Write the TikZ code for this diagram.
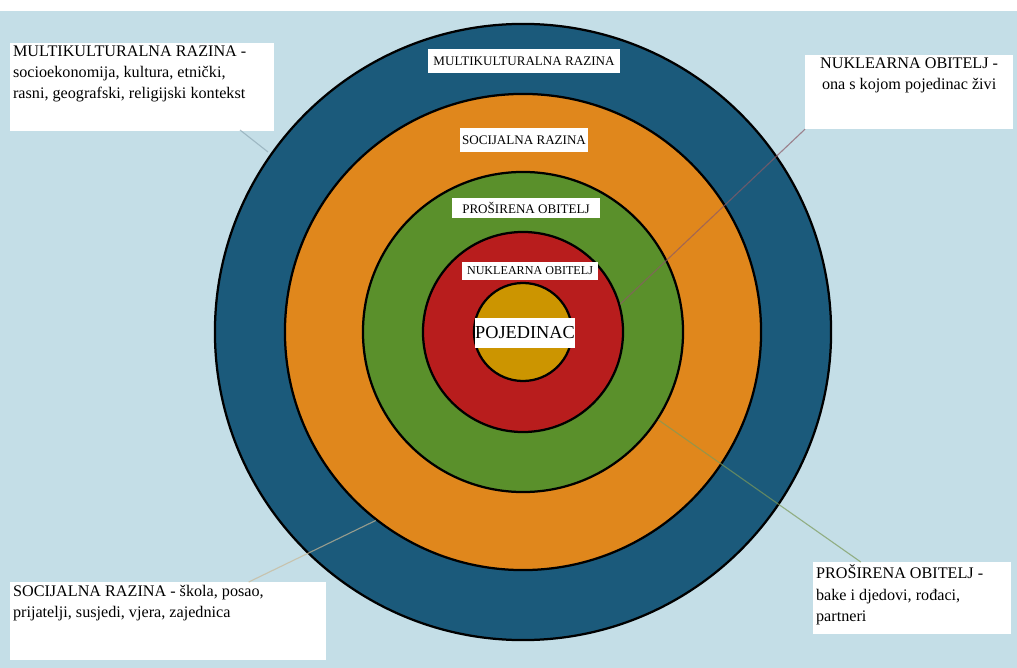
\documentclass[tikz,border=0pt]{standalone}
\usepackage{fontspec}
\setmainfont{Liberation Serif}
\definecolor{bgblue}{HTML}{C4DEE7}
\definecolor{ringblue}{HTML}{1B5A7B}
\definecolor{ringorange}{HTML}{E0871C}
\definecolor{ringgreen}{HTML}{5A902B}
\definecolor{ringred}{HTML}{B81D1D}
\definecolor{ringgold}{HTML}{CC9500}
\definecolor{linkgrey}{HTML}{8FA9B5}
\definecolor{linkred}{HTML}{8B5A66}
\definecolor{linkolive}{HTML}{7C9A5A}
\definecolor{linktan}{HTML}{C9B896}
\begin{document}
\begin{tikzpicture}[x=0.025cm,y=-0.025cm,
     ring/.style={circle,draw=black,line width=1.6pt,inner sep=0pt},
     tag/.style={fill=white,inner sep=0pt,font=\fontsize{9.3}{10}\selectfont},
     box/.style={fill=white,inner sep=2pt,anchor=north west,font=\fontsize{11.5}{15}\selectfont},
     link/.style={line width=0.8pt,opacity=0.7}]

      \fill[white] (0,0) rectangle (1017,668);
      \fill[bgblue] (0,11) rectangle (1017,668);

      \coordinate (c) at (523,332);
      \coordinate (tl) at (240,130);

      \node[box] (bmulti) at (10,43) {\parbox[t][2.05cm][t]{6.45cm}{\raggedright
        MULTIKULTURALNA RAZINA -\\ socioekonomija, kultura, etnički,\\ rasni, geografski, religijski kontekst}};
      \draw[link,linkgrey] (tl) -- (268,152);

      \node[ring,fill=ringblue,minimum size=15.4cm] (multi) at (c) {};
      \node[ring,fill=ringorange,minimum size=11.9cm] (soc) at (c) {};
      \node[ring,fill=ringgreen,minimum size=8cm] (pro) at (c) {};
      \node[ring,fill=ringred,minimum size=5cm] (nuk) at (c) {};
      \node[ring,fill=ringgold,minimum size=2.45cm] (poj) at (c) {};

      \node[tag,minimum width=4.8cm,minimum height=0.62cm] (tmulti) at (524,61) {MULTIKULTURALNA RAZINA};
      \node[tag,minimum width=3.2cm,minimum height=0.62cm] (tsoc) at (524,140) {SOCIJALNA RAZINA};
      \node[tag,minimum width=3.7cm,minimum height=0.52cm] (tpro) at (526,208) {PROŠIRENA OBITELJ};
      \node[tag,minimum width=3.38cm,minimum height=0.43cm,font=\fontsize{8.6}{9}\selectfont] (tnuk) at (530,271) {NUKLEARNA OBITELJ};
      \node[tag,minimum width=2.5cm,minimum height=0.75cm,font=\fontsize{13}{14}\selectfont] (tpoj) at (525,333) {POJEDINAC};

      \node[box,align=center] (bnuk) at (805,55) {\parbox[t][1.7cm][t]{5.05cm}{\centering
        NUKLEARNA OBITELJ -\\ ona s kojom pojedinac živi}};
      \node[box] (bsoc) at (10,582) {\parbox[t][1.8cm][t]{7.75cm}{\raggedright
        SOCIJALNA RAZINA - škola, posao,\\ prijatelji, susjedi, vjera, zajednica}};
      \node[box] (bpro) at (813,562) {\parbox[t][1.65cm][t]{4.8cm}{\raggedright
        PROŠIRENA OBITELJ -\\ bake i djedovi, rođaci,\\ partneri}};

      \foreach \s/\t/\c in {nuk.16/bnuk.south west/linkred, pro.-33/bpro/linkolive, soc.-128/bsoc/linktan} {
       \path[draw,link,\c] (\s) -- (\t);}
    \end{tikzpicture}
\end{document}
